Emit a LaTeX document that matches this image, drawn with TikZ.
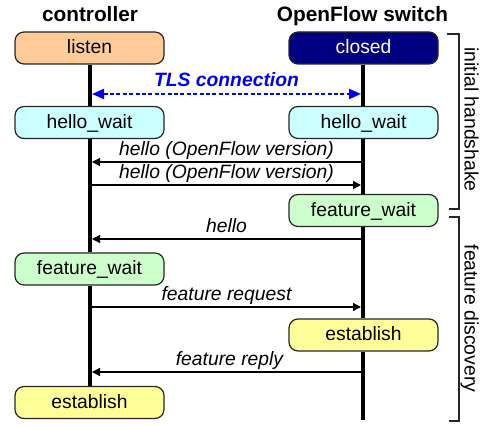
\documentclass[tikz,border=0pt]{standalone}
\usepackage{fontspec}
\setmainfont{Liberation Sans}
\usetikzlibrary{arrows.meta}
\definecolor{listenc}{HTML}{FFCC99}
\definecolor{closedc}{HTML}{000080}
\definecolor{helloc}{HTML}{CCFFFF}
\definecolor{featc}{HTML}{CCFFCC}
\definecolor{estc}{HTML}{FFFF99}
\definecolor{tlsc}{HTML}{0000F0}
\begin{document}
\begin{tikzpicture}[x=0.5pt,y=-0.5pt,
  state/.style={draw=black!85, line width=0.6pt, rounded corners=4.5pt,
    minimum width=74.5pt, minimum height=16pt, inner sep=0pt,
    font=\fontsize{9.65}{11}\selectfont, text height=7pt, text depth=1pt},
  title/.style={font=\fontsize{10.4}{12}\bfseries\selectfont, anchor=base},
  life/.style={line width=2pt, black},
  msg/.style={line width=0.6pt, -{Triangle[length=4pt,width=4pt]}},
  lbl/.style={font=\fontsize{9.65}{11}\itshape\selectfont, anchor=base, inner sep=0pt, yshift=3.25pt},
  tls/.style={line width=1pt, tlsc, dash pattern=on 2pt off 1.2pt,
    {Triangle[length=6pt,width=5pt]}-{Triangle[length=6pt,width=5pt]}},
  tlslbl/.style={font=\fontsize{9.65}{11}\bfseries\itshape\selectfont, text=tlsc, anchor=base, inner sep=0pt, yshift=3.5pt},
  brk/.style={line width=0.6pt, black!85},
  brklbl/.style={font=\fontsize{9.7}{11}\selectfont, rotate=-90, anchor=base, inner sep=0pt}
]
\useasboundingbox (0,0) rectangle (487,426);

% titles
\node[title] (tC) at (90,22) {controller};
\node[title] (tS) at (362.5,22) {OpenFlow switch};

% states
\node[state, fill=listenc] (listen) at (89.5,48) {listen};
\node[state, fill=closedc, text=white] (closed) at (363.5,48) {closed};
\node[state, fill=helloc] (helloL) at (89.5,122.5) {hello\_wait};
\node[state, fill=helloc] (helloR) at (363.5,122.5) {hello\_wait};
\node[state, fill=featc] (fwR) at (363.5,210.5) {feature\_wait};
\node[state, fill=featc] (fwL) at (89.5,269) {feature\_wait};
\node[state, fill=estc] (estR) at (363.5,335) {establish};
\node[state, fill=estc] (estL) at (89.5,402.5) {establish};
\coordinate (endR) at (363,420);

% lifelines
\draw[life] (listen.south -| 90,0) -- (helloL.north -| 90,0);
\draw[life] (helloL.south -| 90,0) -- (fwL.north -| 90,0);
\draw[life] (fwL.south -| 90,0) -- (estL.north -| 90,0);
\draw[life] (closed.south -| 363,0) -- (helloR.north -| 363,0);
\draw[life] (helloR.south -| 363,0) -- (fwR.north -| 363,0);
\draw[life] (fwR.south -| 363,0) -- (estR.north -| 363,0);
\draw[life] (estR.south -| 363,0) -- (endR);

% TLS connection
\coordinate (tL) at (92,94);
\coordinate (tR) at (361,94);
\draw[tls] (tL) -- (tR) node[midway, tlslbl] {TLS connection};

% messages
\coordinate (m1L) at (92,162);  \coordinate (m1R) at (361,162);
\coordinate (m2L) at (92,185);  \coordinate (m2R) at (361,185);
\coordinate (m3L) at (92,239);  \coordinate (m3R) at (361,239);
\coordinate (m4L) at (92,307);  \coordinate (m4R) at (361,307);
\coordinate (m5L) at (92,372);  \coordinate (m5R) at (361,372);
\draw[msg] (m1R) -- (m1L) node[midway, lbl] {hello (OpenFlow version)};
\draw[msg] (m2L) -- (m2R) node[midway, lbl] {hello (OpenFlow version)};
\draw[msg] (m3R) -- (m3L) node[midway, lbl] {hello};
\draw[msg] (m4L) -- (m4R) node[midway, lbl] {feature request};
\draw[msg] (m5R) -- (m5L) node[midway, lbl, xshift=1.5pt] {feature reply};

% brackets
\draw[brk] (447,34) -| (459,209) -- (449,209);
\draw[brk] (449,217) -| (459,421) -- (449,421);
\node[brklbl] (b1) at (464.5,119.5) {initial handshake};
\node[brklbl] (b2) at (464.5,318.5) {feature discovery};
\end{tikzpicture}
\end{document}
